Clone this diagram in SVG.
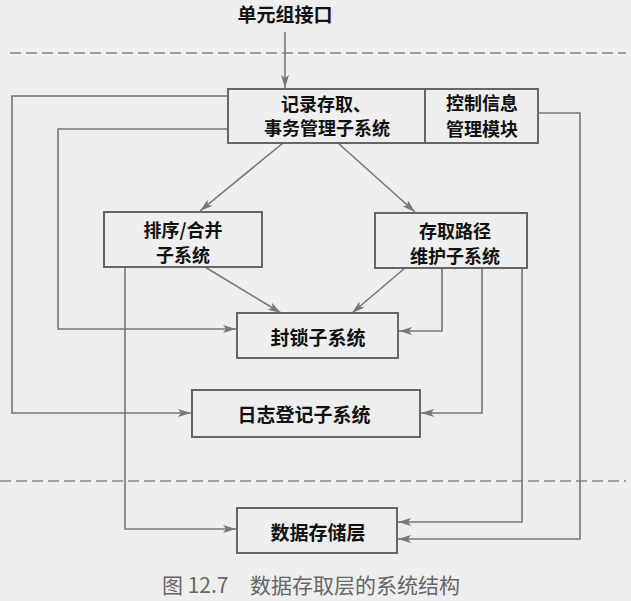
<svg xmlns="http://www.w3.org/2000/svg" width="631" height="601" viewBox="0 0 631 601">
<style>
.box{fill:none;stroke:#666;stroke-width:2}
.t{font-family:"Noto Sans CJK SC","Noto Sans",sans-serif;font-weight:bold;font-size:19px;fill:#111;text-anchor:middle}
.t2{font-size:18px}
.c{fill:none;stroke:#777;stroke-width:1.6}
.d{fill:none;stroke:#888;stroke-width:1.6;stroke-dasharray:11 5}
.cap{font-family:"Noto Sans CJK SC","Noto Sans",sans-serif;font-size:21px;fill:#666}
</style>
<defs>
<marker id="ah" markerUnits="userSpaceOnUse" markerWidth="14" markerHeight="8" refX="13" refY="4" orient="auto">
<path d="M0,0 L13,4 L0,8 L3,4 Z" fill="#777"/>
</marker>
</defs>
<rect width="631" height="601" fill="#eeeeee"/>
<line class="d" x1="10" y1="53" x2="626" y2="53"/>
<line class="d" x1="0" y1="481" x2="626" y2="481"/>
<g id="connectors">
<line class="c" x1="285" y1="32" x2="285" y2="88" marker-end="url(#ah)"/>
<line class="c" x1="283" y1="143" x2="200" y2="211" marker-end="url(#ah)"/>
<line class="c" x1="338" y1="143" x2="415" y2="212" marker-end="url(#ah)"/>
<line class="c" x1="205" y1="267" x2="281" y2="313" marker-end="url(#ah)"/>
<line class="c" x1="405" y1="268" x2="352" y2="313" marker-end="url(#ah)"/>
<polyline class="c" points="228,129 58,129 58,329 236,329" marker-end="url(#ah)"/>
<polyline class="c" points="228,96 12,96 12,413 191,413" marker-end="url(#ah)"/>
<polyline class="c" points="125,267 125,529 236,529" marker-end="url(#ah)"/>
<polyline class="c" points="442,268 442,331 399,331" marker-end="url(#ah)"/>
<polyline class="c" points="482,268 482,413 421,413" marker-end="url(#ah)"/>
<polyline class="c" points="522,268 522,522 398,522" marker-end="url(#ah)"/>
<polyline class="c" points="538,113 580,113 580,539 398,539" marker-end="url(#ah)"/>
</g>
<g id="interface">
<text class="t" x="285" y="22">单元组接口</text>
</g>
<g id="record-access">
<rect class="box" x="228" y="89" width="197" height="54"/>
<text class="t t2" x="326" y="111">记录存取、</text>
<text class="t t2" x="327" y="135">事务管理子系统</text>
</g>
<g id="control-info">
<rect class="box" x="425" y="89" width="113" height="54"/>
<text class="t t2" x="482" y="110">控制信息</text>
<text class="t t2" x="482" y="136">管理模块</text>
</g>
<g id="sort-merge">
<rect class="box" x="104" y="212" width="158" height="55"/>
<text class="t t2" x="183" y="237">排序/合并</text>
<text class="t t2" x="183" y="262">子系统</text>
</g>
<g id="access-path">
<rect class="box" x="375" y="213" width="152" height="55"/>
<text class="t t2" x="455" y="238">存取路径</text>
<text class="t t2" x="455" y="263">维护子系统</text>
</g>
<g id="lock">
<rect class="box" x="237" y="313" width="161" height="45"/>
<text class="t" x="318" y="345">封锁子系统</text>
</g>
<g id="log">
<rect class="box" x="192" y="390" width="228" height="47"/>
<text class="t" x="304" y="422">日志登记子系统</text>
</g>
<g id="storage">
<rect class="box" x="237" y="508" width="160" height="45"/>
<text class="t" x="318" y="540">数据存储层</text>
</g>
<text class="cap" x="162" y="593">图 12.7<tspan x="250">数据存取层的系统结构</tspan></text>
</svg>
